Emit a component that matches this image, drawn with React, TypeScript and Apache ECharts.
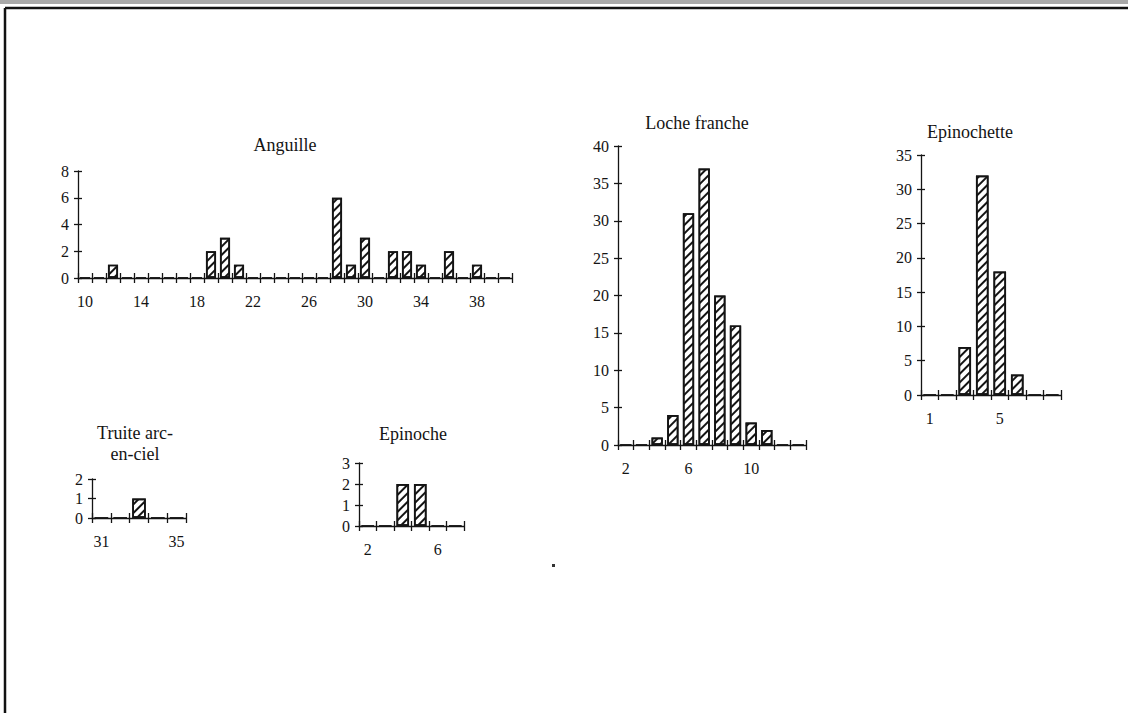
import React, { useEffect, useRef } from 'react';
import * as echarts from 'echarts';

const SERIF = '"Liberation Serif", "DejaVu Serif", serif';
const INK = '#141414';

// ---- data ----
const ANGUILLE_CATS = ['10','11','12','13','14','15','16','17','18','19','20','21','22','23','24','25','26','27','28','29','30','31','32','33','34','35','36','37','38','39','40'];
const ANGUILLE_VALS = [0,0,1,0,0,0,0,0,0,2,3,1,0,0,0,0,0,0,6,1,3,0,2,2,1,0,2,0,1,0,0];

const LOCHE_CATS = ['2','3','4','5','6','7','8','9','10','11','12','13'];
const LOCHE_VALS = [0,0,1,4,31,37,20,16,3,2,0,0];

const EPINOCHETTE_CATS = ['1','2','3','4','5','6','7','8'];
const EPINOCHETTE_VALS = [0,0,7,32,18,3,0,0];

const TRUITE_CATS = ['31','32','33','34','35'];
const TRUITE_VALS = [0,0,1,0,0];

const EPINOCHE_CATS = ['2','3','4','5','6','7'];
const EPINOCHE_VALS = [0,0,2,2,0,0];

const TITLES = ['Anguille', 'Loche franche', 'Epinochette', 'Truite arc-\nen-ciel', 'Epinoche'];
const Y_MAX = [8, 40, 35, 2, 3];
const Y_STEP = [2, 5, 5, 1, 1];

const PANELS = [
  { cats: ANGUILLE_CATS, vals: ANGUILLE_VALS },
  { cats: LOCHE_CATS, vals: LOCHE_VALS },
  { cats: EPINOCHETTE_CATS, vals: EPINOCHETTE_VALS },
  { cats: TRUITE_CATS, vals: TRUITE_VALS },
  { cats: EPINOCHE_CATS, vals: EPINOCHE_VALS },
];

// ---- layout ----
const LAYOUT = [
  { left: 78, top: 171, width: 434, height: 107, tx: 285, ty: 145 },
  { left: 618, top: 146, width: 188, height: 299, tx: 697, ty: 123 },
  { left: 921, top: 155, width: 140, height: 240, tx: 970, ty: 132 },
  { left: 92, top: 479, width: 94, height: 39, tx: 135, ty: 443 },
  { left: 359, top: 463, width: 105, height: 63, tx: 413, ty: 434 },
];

export default function App() {
  const ref = useRef<HTMLDivElement>(null);

  useEffect(() => {
    if (!ref.current) return;
    const chart = echarts.init(ref.current, null, { renderer: 'svg' });

    const grid: any[] = [];
    const xAxis: any[] = [];
    const yAxis: any[] = [];
    const series: any[] = [];
    const graphic: any[] = [];
    const lineStyle = { color: INK, width: 1.3 };

    PANELS.forEach((p, i) => {
      const L = LAYOUT[i];
      grid.push({ left: L.left, top: L.top, width: L.width, height: L.height, containLabel: false });
      xAxis.push({
        type: 'category', gridIndex: i, position: 'bottom', data: p.cats, boundaryGap: true,
        axisLine: { show: true, lineStyle },
        axisTick: { show: true, interval: 0, length: 5, alignWithLabel: false, lineStyle },
        axisLabel: { interval: 3, margin: 15, fontFamily: SERIF, fontSize: 16, color: INK },
        splitLine: { show: false },
      });
      xAxis.push({
        type: 'category', gridIndex: i, position: 'bottom', data: p.cats, boundaryGap: true,
        axisLine: { show: false },
        axisTick: { show: true, inside: true, interval: 0, length: 5, alignWithLabel: false, lineStyle },
        axisLabel: { show: false },
        splitLine: { show: false },
      });
      yAxis.push({
        type: 'value', gridIndex: i, position: 'left', min: 0, max: Y_MAX[i], interval: Y_STEP[i],
        axisLine: { show: true, lineStyle },
        axisTick: { show: true, length: 4, lineStyle },
        axisLabel: { margin: 9, fontFamily: SERIF, fontSize: 16, color: INK },
        splitLine: { show: false },
      });
      yAxis.push({
        type: 'value', gridIndex: i, position: 'left', min: 0, max: Y_MAX[i], interval: Y_STEP[i],
        axisLine: { show: false },
        axisTick: { show: true, inside: true, length: 4, lineStyle },
        axisLabel: { show: false },
        splitLine: { show: false },
      });
      series.push({
        type: 'bar', xAxisIndex: 2 * i, yAxisIndex: 2 * i, data: p.vals,
        barCategoryGap: '28%',
        itemStyle: {
          color: '#ffffff', borderColor: INK, borderWidth: 1.7,
          decal: {
            symbol: 'rect', symbolSize: 1, dashArrayX: [1, 0], dashArrayY: [1.7, 3.5],
            rotation: -Math.PI / 4, color: INK,
          },
        },
      });
      graphic.push({
        type: 'text', x: L.tx, y: L.ty,
        style: {
          text: TITLES[i], fontFamily: SERIF, fontSize: 18, fill: INK,
          align: 'center', verticalAlign: 'middle', lineHeight: 21,
        },
      });
    });

    // scanned page frame
    graphic.push({ type: 'rect', shape: { x: 0, y: 0, width: 1128, height: 4 }, style: { fill: '#a9a9a9' } });
    graphic.push({ type: 'line', shape: { x1: 5, y1: 8, x2: 1128, y2: 8 }, style: { stroke: '#111', lineWidth: 2.5 } });
    graphic.push({ type: 'line', shape: { x1: 5, y1: 8, x2: 5, y2: 713 }, style: { stroke: '#111', lineWidth: 2.5 } });
    graphic.push({ type: 'rect', shape: { x: 552, y: 564, width: 3, height: 3 }, style: { fill: '#333' } });

    chart.setOption({
      animation: false,
      backgroundColor: '#ffffff',
      grid, xAxis, yAxis, series, graphic,
    });
    return () => chart.dispose();
  }, []);

  return (
    <div
      ref={ref}
      style={{ position: 'absolute', left: 0, top: 0, width: 1128, height: 713, background: '#fff' }}
    />
  );
}
